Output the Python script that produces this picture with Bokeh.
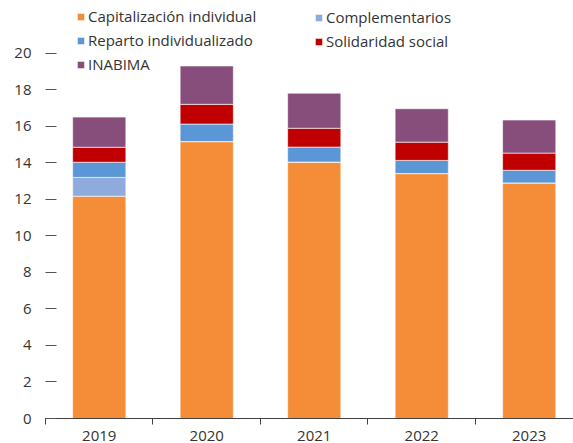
from bokeh.plotting import figure
from bokeh.models import Range1d, FixedTicker, Legend, LegendItem, ColumnDataSource
from bokeh.embed import file_html
from bokeh.resources import INLINE

years = ["2019", "2020", "2021", "2022", "2023"]
capitalizacion = [12.17, 15.16, 14.04, 13.41, 12.90]
complementarios = [1.03, 0.0, 0.0, 0.0, 0.0]
reparto = [0.83, 0.96, 0.82, 0.72, 0.69]
solidaridad = [0.82, 1.08, 1.03, 1.00, 0.94]
inabima = [1.65, 2.10, 1.92, 1.83, 1.81]
y_ticks = [0, 2, 4, 6, 8, 10, 12, 14, 16, 18, 20]

series = ["capitalizacion", "complementarios", "reparto", "solidaridad", "inabima"]
labels = ["Capitalización individual", "Complementarios", "Reparto individualizado",
          "Solidaridad social", "INABIMA"]
colors = ["#F58D38", "#8FAADC", "#5B97D7", "#C00000", "#874E7B"]

xs = [i + 0.5 for i in range(len(years))]
source = ColumnDataSource(dict(x=xs, capitalizacion=capitalizacion, complementarios=complementarios,
                               reparto=reparto, solidaridad=solidaridad, inabima=inabima))

FONT = "Open Sans"

p = figure(width=573, height=443, output_backend="svg", toolbar_location=None,
           x_range=Range1d(0, 4.912), y_range=Range1d(0, 22.885))
p.min_border_left = 45
p.min_border_right = 0
p.min_border_top = 0
p.min_border_bottom = 25
p.outline_line_color = None
p.xgrid.grid_line_color = None
p.ygrid.grid_line_color = None
p.background_fill_color = "white"
p.border_fill_color = "white"

rs = p.vbar_stack(series, x="x", width=0.495, source=source, color=colors,
                  line_color="white", line_alpha=0.6, line_width=1)

# x axis
xa = p.xaxis[0]
xa.ticker = FixedTicker(ticks=xs, minor_ticks=list(range(len(years) + 1)))
xa.major_label_overrides = {x: y for x, y in zip(xs, years)}
xa.major_tick_out = 0
xa.major_tick_in = 0
xa.minor_tick_out = 6
xa.minor_tick_in = 0
xa.minor_tick_line_color = "#404040"
xa.axis_line_color = "#404040"
xa.axis_line_width = 1.2
xa.major_label_standoff = 6
xa.major_label_text_font = FONT
xa.major_label_text_font_size = "15px"
xa.major_label_text_color = "#333333"

# y axis
ya = p.yaxis[0]
ya.ticker = FixedTicker(ticks=y_ticks)
ya.axis_line_color = None
ya.major_tick_in = 11
ya.major_tick_out = 0
ya.minor_tick_line_color = None
ya.major_tick_line_color = "#555555"
ya.major_label_standoff = 14
ya.major_label_text_font = FONT
ya.major_label_text_font_size = "15px"
ya.major_label_text_color = "#333333"

def make_legend(idx, loc):
    leg = Legend(items=[LegendItem(label=labels[i], renderers=[rs[i]]) for i in idx],
                 location=loc)
    leg.border_line_color = None
    leg.background_fill_alpha = 0
    leg.padding = 0
    leg.margin = 0
    leg.spacing = 4
    leg.glyph_width = 9
    leg.glyph_height = 9
    leg.label_height = 18
    leg.label_standoff = 3
    leg.label_text_font = FONT
    leg.label_text_font_size = "15px"
    leg.label_text_color = "#333333"
    return leg

p.add_layout(make_legend([0, 2, 4], (31, 344)))
p.add_layout(make_legend([1, 3], (269, 367)))

open("out.html", "w").write(file_html(p, INLINE))
